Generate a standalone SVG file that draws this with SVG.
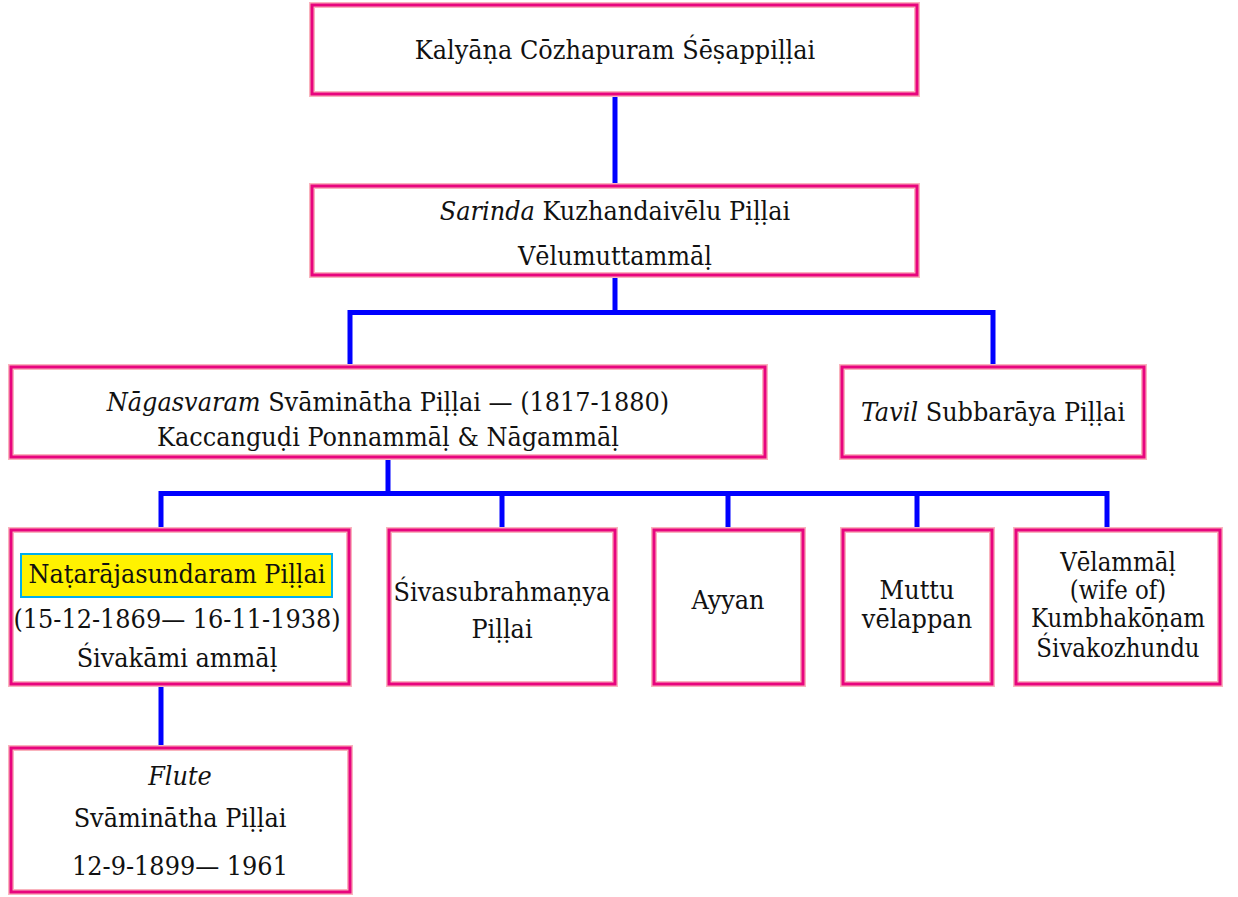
<svg xmlns="http://www.w3.org/2000/svg" width="1238" height="897" viewBox="0 0 1238 897">
<style>
.o{fill:#fff;stroke:#f9b3bd;stroke-width:6}
.i{fill:none;stroke:#e8057e;stroke-width:3}
text{font-family:"DejaVu Serif Condensed","DejaVu Serif",serif;font-size:26.7px;fill:#111;text-anchor:middle}
.it{font-style:italic}
.sm{font-size:25.5px}
.c{fill:none;stroke:#0000ff;stroke-width:5;stroke-linejoin:miter}
</style>
<rect width="1238" height="897" fill="#fff"/>
<g id="connectors">
<path class="c" d="M615 94V186"/>
<path class="c" d="M615 275V312.5M350 367V312.5H993V367"/>
<path class="c" d="M388 457V493.5M161 530V493.5H1107V530M502 493.5V530M728 493.5V530M917 493.5V530"/>
<path class="c" d="M161 684V748"/>
</g>
<g id="n1"><rect class="o" x="312" y="5" width="605" height="89"/><rect class="i" x="312" y="5" width="605" height="89"/>
<text x="615" y="59">Kalyāṇa Cōzhapuram Śēṣappiḷḷai</text></g>
<g id="n2"><rect class="o" x="312" y="186" width="605" height="89"/><rect class="i" x="312" y="186" width="605" height="89"/>
<text x="615" y="220"><tspan class="it">Sarinda</tspan> Kuzhandaivēlu Piḷḷai</text>
<text x="615" y="265">Vēlumuttammāḷ</text></g>
<g id="n3"><rect class="o" x="11" y="367" width="754" height="90"/><rect class="i" x="11" y="367" width="754" height="90"/>
<text x="388" y="411"><tspan class="it">Nāgasvaram</tspan> Svāminātha Piḷḷai — (1817-1880)</text>
<text x="388" y="446">Kaccanguḍi Ponnammāḷ &amp; Nāgammāḷ</text></g>
<g id="n4"><rect class="o" x="842" y="367" width="302" height="90"/><rect class="i" x="842" y="367" width="302" height="90"/>
<text x="993" y="421"><tspan class="it">Tavil</tspan> Subbarāya Piḷḷai</text></g>
<g id="n5"><rect class="o" x="11" y="530" width="338" height="154"/><rect class="i" x="11" y="530" width="338" height="154"/>
<rect x="21" y="554" width="311" height="43" fill="#fff200" stroke="#00aeef" stroke-width="2"/>
<text x="177" y="583">Naṭarājasundaram Piḷḷai</text>
<text x="177" y="628">(15-12-1869— 16-11-1938)</text>
<text x="177" y="667">Śivakāmi ammāḷ</text></g>
<g id="n6"><rect class="o" x="389" y="530" width="226" height="154"/><rect class="i" x="389" y="530" width="226" height="154"/>
<text x="502" y="601">Śivasubrahmaṇya</text>
<text x="502" y="638">Piḷḷai</text></g>
<g id="n7"><rect class="o" x="654" y="530" width="149" height="154"/><rect class="i" x="654" y="530" width="149" height="154"/>
<text x="728" y="609">Ayyan</text></g>
<g id="n8"><rect class="o" x="843" y="530" width="149" height="154"/><rect class="i" x="843" y="530" width="149" height="154"/>
<text x="917" y="599">Muttu</text>
<text x="917" y="628">vēlappan</text></g>
<g id="n9"><rect class="o" x="1016" y="530" width="204" height="154"/><rect class="i" x="1016" y="530" width="204" height="154"/>
<text class="sm" x="1118" y="571">Vēlammāḷ</text>
<text class="sm" x="1118" y="599">(wife of)</text>
<text class="sm" x="1118" y="627">Kumbhakōṇam</text>
<text class="sm" x="1118" y="657">Śivakozhundu</text></g>
<g id="n10"><rect class="o" x="11" y="748" width="339" height="144"/><rect class="i" x="11" y="748" width="339" height="144"/>
<text x="180" y="785" class="it">Flute</text>
<text x="180" y="827">Svāminātha Piḷḷai</text>
<text x="180" y="875">12-9-1899— 1961</text></g>
</svg>
